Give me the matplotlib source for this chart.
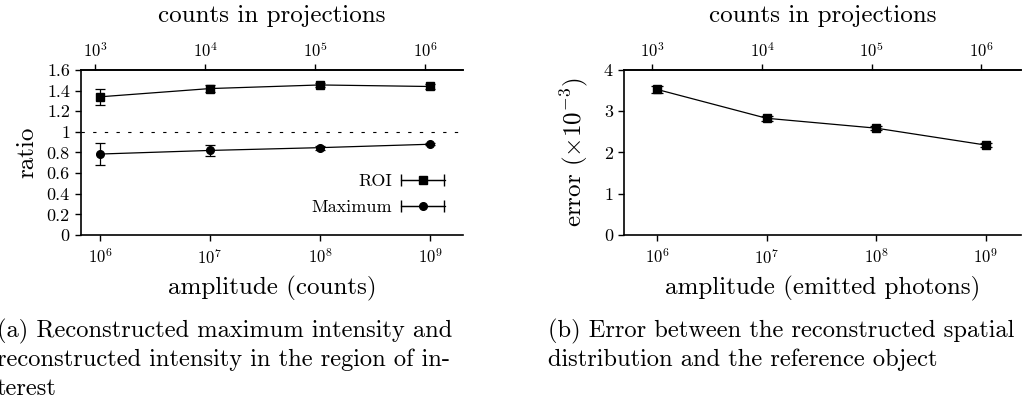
import numpy as np
import matplotlib
matplotlib.use('Agg')
import matplotlib.pyplot as plt
from matplotlib.ticker import NullLocator, FuncFormatter, FixedLocator
from matplotlib.container import ErrorbarContainer
from matplotlib.legend_handler import HandlerErrorbar

plt.rcParams['font.family'] = 'serif'
plt.rcParams['font.serif'] = ['cmr10']
plt.rcParams['mathtext.fontset'] = 'cm'
plt.rcParams['axes.formatter.use_mathtext'] = True
plt.rcParams['axes.unicode_minus'] = False

# data
amplitude = [1e6, 1e7, 1e8, 1e9]
roi = [1.34, 1.42, 1.455, 1.44]
roi_err = [0.08, 0.035, 0.02, 0.02]
maximum = [0.785, 0.82, 0.847, 0.88]
maximum_err = [0.105, 0.055, 0.02, 0.012]
error = [3.53, 2.83, 2.59, 2.18]
error_err = [0.08, 0.06, 0.05, 0.05]

ratio_ticks = [0, 0.2, 0.4, 0.6, 0.8, 1, 1.2, 1.4, 1.6]
error_ticks = [0, 1, 2, 3, 4]
counts_ticks = [1e3, 1e4, 1e5, 1e6]
counts_factor = 1.1e-3

log_fs = 12
num_fs = 13
label_fs = 18

fig = plt.figure(figsize=(10.25, 4.03), dpi=100)
ax1 = fig.add_axes([0.079, 0.4169, 0.3727, 0.4094])
ax2 = fig.add_axes([0.6088, 0.4169, 0.3872, 0.4094])


def style_axes(ax):
    ax.set_xscale('log')
    ax.spines['right'].set_visible(False)
    for s in ['left', 'top', 'bottom']:
        ax.spines[s].set_linewidth(1.2)
    ax.xaxis.set_minor_locator(NullLocator())
    ax.tick_params(direction='out', length=4, width=1, top=False, right=False)
    ax.tick_params(axis='x', labelsize=log_fs, pad=5)
    ax.tick_params(axis='y', labelsize=num_fs, pad=4)
    ax.xaxis.set_major_locator(FixedLocator(amplitude))
    sec = ax.secondary_xaxis('top', functions=(lambda x: x * counts_factor,
                                               lambda x: x / counts_factor))
    sec.xaxis.set_major_locator(FixedLocator(counts_ticks))
    sec.xaxis.set_minor_locator(NullLocator())
    sec.tick_params(direction='out', length=4, width=1, labelsize=log_fs, pad=3)
    sec.spines['top'].set_linewidth(1.2)
    # top axis title placed by hand so it sits like the reference
    ax.text(0.5, 1 - 22 / 403, 'counts in projections', fontsize=label_fs,
            ha='center', va='baseline',
            transform=matplotlib.transforms.blended_transform_factory(ax.transAxes, fig.transFigure))
    return sec


# (a) ratio plot
style_axes(ax1)
ax1.errorbar(amplitude, roi, yerr=roi_err, fmt='ks-', ms=5.5, lw=0.9,
             elinewidth=0.9, capsize=3.7, capthick=0.9)
ax1.errorbar(amplitude, maximum, yerr=maximum_err, fmt='ko-', ms=5.5, lw=0.9,
             elinewidth=0.9, capsize=3.7, capthick=0.9)
ax1.axhline(1, color='k', lw=0.8, ls=(0, (3, 7.5)))
# legend proxies with horizontal error bars
ax1.errorbar([np.nan], [np.nan], xerr=[1], fmt='ks-', ms=5.5, lw=0.9,
             capsize=4, label='ROI')
ax1.errorbar([np.nan], [np.nan], xerr=[1], fmt='ko-', ms=5.5, lw=0.9,
             capsize=4, label='Maximum')
ax1.legend(loc='lower right', frameon=False, markerfirst=False, fontsize=num_fs,
           handlelength=2.45, handletextpad=0.45, labelspacing=0.6,
           bbox_to_anchor=(0.995, 0.02),
           handler_map={ErrorbarContainer: HandlerErrorbar(xerr_size=1.2)})
ax1.set_xlim(10 ** 5.827, 10 ** 9.3)
ax1.set_ylim(0, 1.6)
ax1.yaxis.set_major_locator(FixedLocator(ratio_ticks))
ax1.yaxis.set_major_formatter(FuncFormatter(lambda v, p: '%g' % v))
ax1.set_xlabel('amplitude (counts)', fontsize=label_fs, labelpad=6)
ax1.set_ylabel('ratio', fontsize=label_fs, labelpad=6)

# (b) error plot
style_axes(ax2)
ax2.errorbar(amplitude, error, yerr=error_err, fmt='ks-', ms=6, lw=0.9,
             elinewidth=0.9, capsize=4, capthick=0.9)
ax2.set_xlim(10 ** 5.7, 10 ** 9.32)
ax2.set_ylim(0, 4)
ax2.yaxis.set_major_locator(FixedLocator(error_ticks))
ax2.yaxis.set_major_formatter(FuncFormatter(lambda v, p: '%g' % v))
ax2.set_xlabel('amplitude (emitted photons)', fontsize=label_fs, labelpad=6)
ax2.set_ylabel(r'error $(\times10^{-3})$', fontsize=label_fs, labelpad=10)

# sub-captions
cap_fs = 17.6
fig.text(-0.003, 1 - 337 / 403, '(a) Reconstructed maximum intensity and',
         fontsize=cap_fs, va='baseline', ha='left')
fig.text(-0.003, 1 - 366 / 403, 'reconstructed intensity in the region of in-',
         fontsize=cap_fs, va='baseline', ha='left')
fig.text(-0.003, 1 - 395 / 403, 'terest',
         fontsize=cap_fs, va='baseline', ha='left')
fig.text(548 / 1025, 1 - 337 / 403, '(b) Error between the reconstructed spatial',
         fontsize=cap_fs, va='baseline', ha='left')
fig.text(548 / 1025, 1 - 366 / 403, 'distribution and the reference object',
         fontsize=cap_fs, va='baseline', ha='left')

fig.savefig('out.png', dpi=100)
